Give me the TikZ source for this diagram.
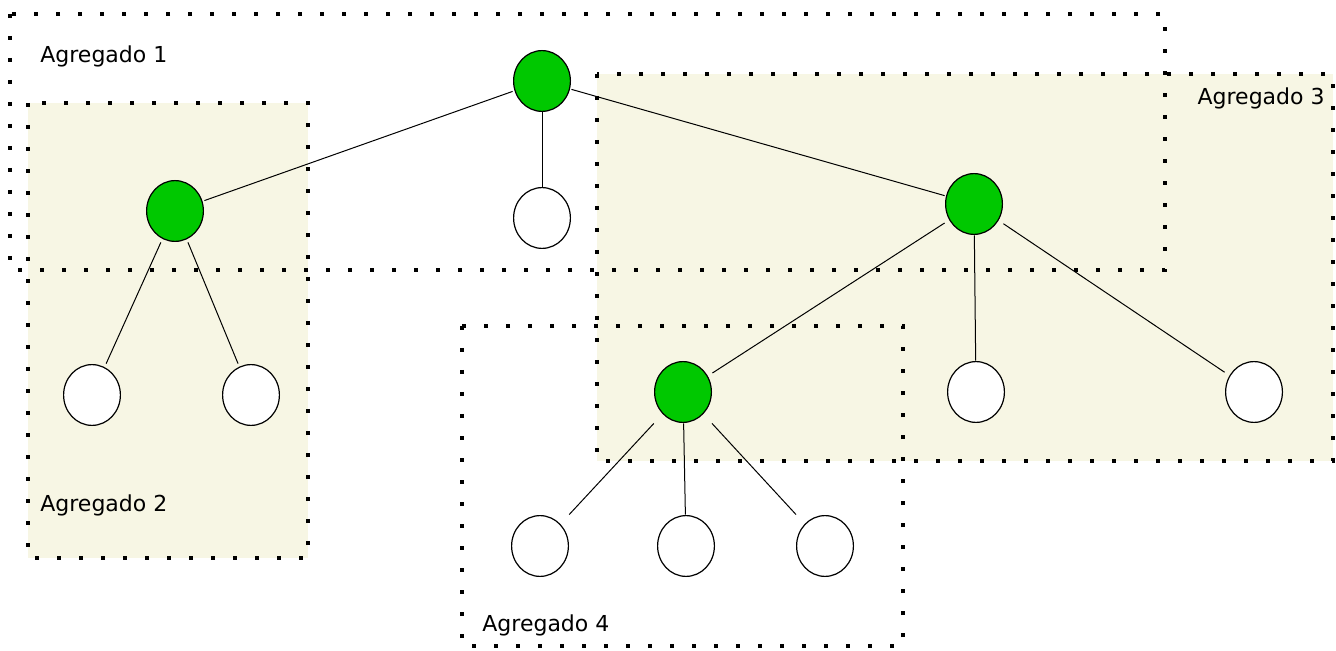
\documentclass[tikz,border=0pt]{standalone}
\usepackage{fontspec}
\setmainfont{DejaVu Sans}
\usepackage{xcolor}

\definecolor{verde}{RGB}{0,200,0}
\definecolor{bege}{RGB}{247,246,228}

\tikzset{
  no/.style={rectangle, inner sep=0pt, minimum width=29pt, minimum height=31pt,
    path picture={\draw[line width=0.6pt, fill=#1] (path picture bounding box.center)
      ellipse [x radius=14.2pt, y radius=15.2pt];}},
  no/.default=white,
  agregado/.style={line width=2pt, dash pattern=on 2pt off 9pt},
  rotulo/.style={inner sep=0pt, font=\fontsize{11}{13}\selectfont},
  aresta/.style={line width=0.5pt}
}

\begin{document}
\begin{tikzpicture}[x=0.5pt, y=-0.5pt]
    \useasboundingbox (0,0) rectangle (1336,651);
    % fundos dos agregados 2 e 3
    \fill[bege] (28,103) rectangle (308,558);
    \fill[bege] (597,74) rectangle (1333,461);
    % contornos pontilhados
    \draw[agregado] (10,14) rectangle (1165,270);
    \draw[agregado] (28,103) rectangle (308,558);
    \draw[agregado] (597,74) rectangle (1333,461);
    \draw[agregado] (462,326) rectangle (903,646);
    \node[rotulo, anchor=base west] (rot1) at (40,63) {Agregado 1};
    \node[rotulo, anchor=base west] (rot2) at (40,511) {Agregado 2};
    \node[rotulo, anchor=base east] (rot3) at (1325,105) {Agregado 3};
    \node[rotulo, anchor=base west] (rot4) at (482,631) {Agregado 4};

    % arvore
    \node[no=verde] (raiz) at (542,81) {};
    \node[no=verde] (a) at (175,211) {};
    \node[no] (m) at (542,218) {};
    \node[no=verde] (b) at (974,204) {};
    \node[no=verde] (c) at (683,392) {};
    \node[no] (a1) at (92,395) {};
    \node[no] (a2) at (251,395) {};
    \node[no] (b1) at (976,392) {};
    \node[no] (b2) at (1254,392) {};
    \node[no] (c1) at (540,546) {};
    \node[no] (c2) at (686,546) {};
    \node[no] (c3) at (825,546) {};

    \draw[aresta] (raiz) -- (a);
    \draw[aresta] (raiz) -- (m);
    \draw[aresta] (raiz) -- (b);
    \draw[aresta] (a) -- (a1);
    \draw[aresta] (a) -- (a2);
    \draw[aresta] (b) -- (c);
    \draw[aresta] (b) -- (b1);
    \draw[aresta] (b) -- (b2);
    \draw[aresta] (c) -- (c1);
    \draw[aresta] (c) -- (c2);
    \draw[aresta] (c) -- (c3);
\end{tikzpicture}
\end{document}
